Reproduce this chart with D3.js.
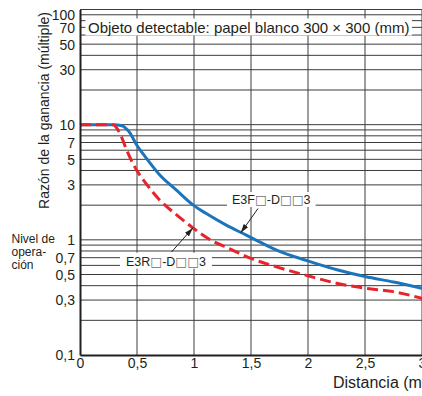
<!DOCTYPE html>
<html><head><meta charset="utf-8">
<script src="https://cdn.jsdelivr.net/npm/d3@7"></script>
<style>
html,body{margin:0;padding:0;background:#fff;overflow:hidden}
svg{display:block}
text{font-family:"Liberation Sans",Arial,Helvetica,sans-serif;fill:#231f20}
</style>
</head><body>
<svg id="c" width="422" height="396"></svg>
<script>
// ---- data ----
const distE3F = [0, 0.30, 0.36, 0.43, 0.50, 0.583, 0.70, 0.846, 1.00, 1.108, 1.283, 1.458, 1.575, 1.73, 1.99, 2.254, 2.50, 2.75, 3.0];
const gainE3F = [10, 10, 9.85, 8.7, 6.6, 5.1, 3.65, 2.7, 1.98, 1.69, 1.34, 1.10, 0.96, 0.81, 0.66, 0.55, 0.48, 0.43, 0.38];
const distE3R = [0, 0.29, 0.35, 0.41, 0.48, 0.58, 0.70, 0.85, 1.00, 1.15, 1.31, 1.50, 1.73, 1.99, 2.25, 2.50, 2.75, 3.0];
const gainE3R = [10, 10, 8.4, 6.0, 4.3, 3.08, 2.21, 1.64, 1.25, 0.99, 0.84, 0.69, 0.58, 0.49, 0.42, 0.38, 0.355, 0.31];
const seriesNames = ["E3F\u25A1-D\u25A1\u25A13", "E3R\u25A1-D\u25A1\u25A13"];
const xTicks = [0, 0.5, 1, 1.5, 2, 2.5, 3];
const xTickLabels = ["0", "0,5", "1", "1,5", "2", "2,5", "3"];
const yTicks = [100, 70, 50, 30, 10, 7, 5, 3, 1, 0.7, 0.5, 0.3, 0.1];
const yTickLabels = ["100", "70", "50", "30", "10", "7", "5", "3", "1", "0,7", "0,5", "0,3", "0,1"];
const yGrid = [0.2,0.3,0.4,0.5,0.6,0.7,0.8,0.9,1,2,3,4,5,6,7,8,9,10,20,30,40,50,60,70,80,90,100];
const xGrid = [0.5, 1, 1.5, 2, 2.5, 3];
const titleText = "Objeto detectable: papel blanco 300 \u00D7 300 (mm)";
const yTitle = "Razón de la ganancia (múltiple)";
const xTitle = "Distancia (m)";
const levelLabel = ["Nivel de", "opera-", "ción"];

// ---- scales ----
const svg = d3.select("#c");
const x = d3.scaleLinear().domain([0, 3.5]).range([80, 80 + 114 * 3.5]);
const y = d3.scaleLog().domain([0.1, 100]).range([355, 9.5]);
const GRID = "#3c3c3c";

// grid
svg.append("g").selectAll("line").data(yGrid).join("line")
  .attr("x1", x(0)).attr("x2", x(3.5))
  .attr("y1", d => y(d)).attr("y2", d => y(d))
  .attr("stroke", GRID).attr("stroke-width", 1);
svg.append("g").selectAll("line").data(xGrid).join("line")
  .attr("x1", d => x(d)).attr("x2", d => x(d))
  .attr("y1", y(100)).attr("y2", y(0.1))
  .attr("stroke", GRID).attr("stroke-width", 1);

// series
const line = d3.line().x(d => x(d[0])).y(d => y(d[1])).curve(d3.curveMonotoneX);
svg.append("path").datum(d3.zip(distE3F, gainE3F))
  .attr("d", line).attr("fill", "none").attr("stroke", "#1b75bc").attr("stroke-width", 3);
svg.append("path").datum(d3.zip(distE3R, gainE3R))
  .attr("d", line).attr("fill", "none").attr("stroke", "#e8232b").attr("stroke-width", 3)
  .attr("stroke-dasharray", "11,5");

// axes
const yAxis = d3.axisLeft(y).tickValues(yTicks).tickFormat((d, i) => yTickLabels[i]).tickSize(0).tickPadding(5);
const gy = svg.append("g").attr("transform", `translate(${x(0)},0)`).call(yAxis);
gy.select(".domain").attr("stroke", "#231f20").attr("stroke-width", 2);
gy.selectAll("text").attr("font-size", 14).attr("font-family", null).attr("fill", "#231f20")
  .attr("dy", (d) => d === 100 ? "0.68em" : "0.35em");

const xAxis = d3.axisBottom(x).tickValues(xTicks).tickFormat((d, i) => xTickLabels[i]).tickSize(0).tickPadding(3);
const gx = svg.append("g").attr("transform", `translate(0,${y(0.1)})`).call(xAxis);
gx.select(".domain").attr("stroke", "#231f20").attr("stroke-width", 2);
gx.selectAll("text").attr("font-size", 14).attr("font-family", null).attr("fill", "#231f20");

// axis titles
svg.append("text").attr("transform", `translate(48.5,110.5) rotate(-90)`)
  .attr("text-anchor", "middle").attr("font-size", 14).text(yTitle);
svg.append("text").attr("x", 333).attr("y", 388).attr("font-size", 16).text(xTitle);

// operation level label
svg.append("g").selectAll("text").data(levelLabel).join("text")
  .attr("x", 11.5).attr("y", (d, i) => 242.5 + i * 13)
  .attr("font-size", 12).text(d => d);

// text with white box; the white-square glyph is drawn with DejaVu Sans
function boxedText(tx, ty, str, size, padX, padTop, padBot) {
  const g = svg.append("g");
  const r = g.append("rect").attr("fill", "#fff");
  const t = g.append("text").attr("x", tx).attr("y", ty).attr("font-size", size);
  str.split(/(\u25A1)/).filter(s => s.length).forEach(s => {
    const ts = t.append("tspan").text(s);
    if (s === "\u25A1") ts.attr("font-family", "DejaVu Sans").attr("fill", "#6d6e71");
  });
  const b = t.node().getBBox();
  r.attr("x", b.x - padX).attr("y", b.y - padTop)
   .attr("width", b.width + 2 * padX).attr("height", b.height + padTop + padBot);
  return g;
}
boxedText(88, 32.5, titleText, 15, 2.5, 0, 0);

// markers
svg.append("defs").append("marker").attr("id", "ah")
  .attr("viewBox", "0 0 10 6").attr("refX", 10).attr("refY", 3)
  .attr("markerWidth", 9).attr("markerHeight", 5.5).attr("markerUnits", "userSpaceOnUse")
  .attr("orient", "auto")
  .append("path").attr("d", "M0,0 L10,3 L0,6 Z").attr("fill", "#231f20");

// series labels
boxedText(232, 204, seriesNames[0], 12.5, 5, 0, 0);
boxedText(126, 265.7, seriesNames[1], 12.5, 6, 1, 0);

// arrows
svg.append("line").attr("x1", 258).attr("y1", 208.5)
  .attr("x2", x(1.41)).attr("y2", y(1.15))
  .attr("stroke", "#231f20").attr("stroke-width", 1).attr("marker-end", "url(#ah)");
svg.append("line").attr("x1", 171.5).attr("y1", 252)
  .attr("x2", x(0.99)).attr("y2", y(1.27))
  .attr("stroke", "#231f20").attr("stroke-width", 1).attr("marker-end", "url(#ah)");
</script>
</body></html>
